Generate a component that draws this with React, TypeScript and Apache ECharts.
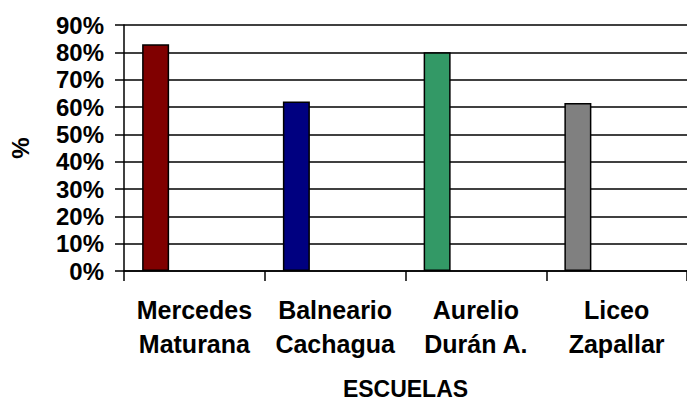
import React, { useEffect, useRef } from "react";
import * as echarts from "echarts";

const categories = ["Mercedes\nMaturana", "Balneario\nCachagua", "Aurelio\nDurán A.", "Liceo\nZapallar"];
const values = [0.83, 0.62, 0.8, 0.615];
const barColors = ["#800000", "#000080", "#339966", "#808080"];
const yTicks = [0, 0.1, 0.2, 0.3, 0.4, 0.5, 0.6, 0.7, 0.8, 0.9];

const FONT = "'Liberation Sans', Arial, sans-serif";

export default function App() {
  const ref = useRef<HTMLDivElement>(null);
  useEffect(() => {
    if (!ref.current) return;
    const chart = echarts.init(ref.current, null, { renderer: "svg" });
    chart.setOption({
      animation: false,
      backgroundColor: "#ffffff",
      grid: { left: 118, top: 25, width: 578, height: 252, containLabel: false },
      xAxis: {
        type: "category",
        data: categories,
        name: "ESCUELAS",
        nameLocation: "middle",
        nameGap: 106,
        nameMoveOverlap: false,
        nameTextStyle: { fontFamily: FONT, fontWeight: "bold", fontSize: 23, color: "#000" },
        axisLine: { show: true, lineStyle: { color: "#000", width: 1.5 } },
        axisTick: { show: true, length: 10, lineStyle: { color: "#000", width: 1.5 } },
        axisLabel: {
          fontFamily: FONT,
          fontWeight: "bold",
          fontSize: 25,
          lineHeight: 34,
          color: "#000",
          margin: 22,
          interval: 0,
        },
        splitLine: { show: false },
      },
      yAxis: {
        type: "value",
        min: 0,
        max: yTicks[yTicks.length - 1],
        interval: 0.1,
        name: "%",
        nameLocation: "middle",
        nameGap: 92,
        nameRotate: 90,
        nameMoveOverlap: false,
        nameTextStyle: { fontFamily: FONT, fontWeight: "bold", fontSize: 24, color: "#000" },
        axisLine: { show: true, lineStyle: { color: "#000", width: 1.5 } },
        axisTick: { show: true, length: 9, lineStyle: { color: "#000", width: 1.5 } },
        axisLabel: {
          fontFamily: FONT,
          fontWeight: "bold",
          fontSize: 24,
          color: "#000",
          margin: 20,
          formatter: (v: number) => `${Math.round(v * 100)}%`,
        },
        splitLine: { show: true, lineStyle: { color: "#000", width: 1.5 } },
      },
      series: [
        {
          type: "bar",
          barWidth: 27,
          barGap: "187%",
          data: values.map((v, i) => ({
            value: v,
            itemStyle: { color: barColors[i], borderColor: "#000", borderWidth: 1.5 },
          })),
        },
        {
          type: "bar",
          barWidth: 27,
          barGap: "187%",
          silent: true,
          data: values.map(() => 0),
          itemStyle: { color: "rgba(0,0,0,0)", borderWidth: 0 },
        },
      ],
    });
    return () => chart.dispose();
  }, []);
  return (
    <div
      ref={ref}
      style={{ position: "fixed", left: 0, top: 0, width: 687, height: 405, background: "#fff" }}
    />
  );
}
